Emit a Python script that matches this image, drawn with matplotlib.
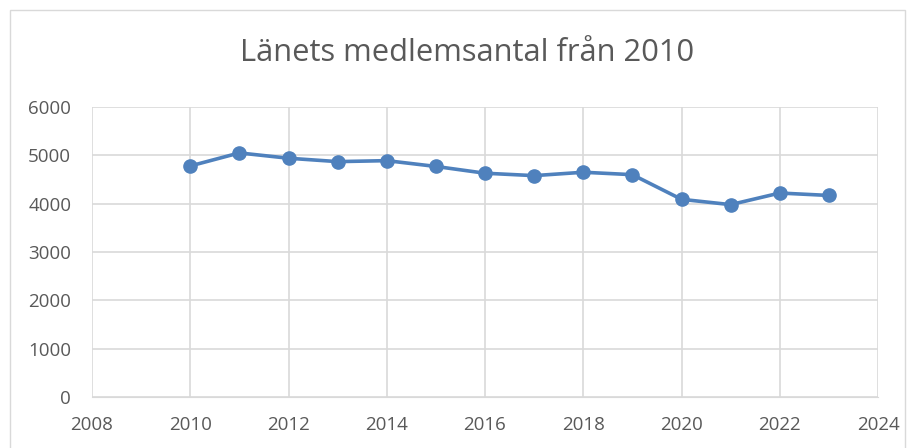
import matplotlib.pyplot as plt
from matplotlib.patches import Rectangle

years = [2010, 2011, 2012, 2013, 2014, 2015, 2016, 2017, 2018, 2019, 2020, 2021, 2022, 2023]
members = [4780, 5050, 4940, 4870, 4890, 4770, 4630, 4580, 4650, 4600, 4090, 3980, 4220, 4170]

plt.rcParams['font.family'] = ['Open Sans', 'DejaVu Sans']

fig = plt.figure(figsize=(9.17, 4.48), dpi=100)
ax = fig.add_axes([92 / 917, 1 - 397 / 448, (878 - 92) / 917, (397 - 107) / 448])

ax.plot(years, members, color='#4F81BD', linewidth=2.6, marker='o', markersize=9.5, zorder=3)

ax.set_xlim(2008, 2024)
ax.set_ylim(0, 6000)
ax.set_xticks(range(2008, 2025, 2))
ax.set_yticks(range(0, 6001, 1000))
ax.grid(True, color='#D9D9D9', linewidth=1.2)
for s in ['top', 'right', 'left']:
    ax.spines[s].set_visible(False)
ax.spines['bottom'].set_color('#D9D9D9')
ax.tick_params(length=0, labelsize=13.5, labelcolor='#595959')
ax.tick_params(axis='y', pad=15)
ax.tick_params(axis='x', pad=14)

fig.text(467 / 917, 1 - 53 / 448, 'Länets medlemsantal från 2010', ha='center', va='center',
         fontsize=22.2, color='#595959')

fig.patches.append(Rectangle((10 / 917, -0.05), (905 - 10) / 917, 1 - 10 / 448 + 0.05,
                             transform=fig.transFigure, fill=False, edgecolor='#D9D9D9', linewidth=1))

fig.savefig('out.png', dpi=100)
